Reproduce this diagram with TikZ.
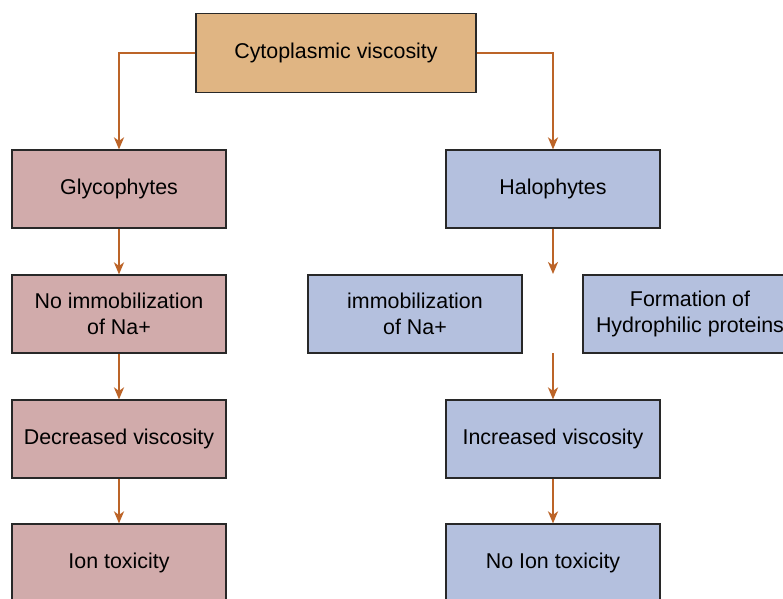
\documentclass[tikz,border=0pt]{standalone}
\usepackage{fontspec}
\setmainfont{Liberation Sans}
\usetikzlibrary{arrows.meta}

\definecolor{rootfill}{RGB}{224,181,131}
\definecolor{glyfill}{RGB}{209,171,171}
\definecolor{halofill}{RGB}{180,192,222}
\definecolor{boxline}{RGB}{40,40,40}
\definecolor{flow}{RGB}{188,100,40}

\tikzset{
  box/.style={draw=boxline, line width=1.2pt, minimum width=214pt, minimum height=78pt,
    inner sep=0pt, align=center, font=\fontsize{21.4}{26}\selectfont},
  rootbox/.style={box, fill=rootfill, minimum width=280pt, minimum height=79pt},
  glybox/.style={box, fill=glyfill},
  halobox/.style={box, fill=halofill},
  flowarrow/.style={draw=flow, line width=2pt,
    -{Stealth[length=12pt, width=10pt, inset=3.5pt]}}
}

\begin{document}
\begin{tikzpicture}[x=1pt, y=-1pt]
  \clip (0,0) rectangle (783,598);
  \fill[white] (0,0) rectangle (783,598);

  % root of the tree
  \node[rootbox] (root) at (336,53) {Cytoplasmic viscosity};

  % glycophyte branch
  \node[glybox] (gly)    at (119,189) {Glycophytes};
  \node[glybox] (noimm)  at (119,314) {No immobilization\\of Na+};
  \node[glybox] (dec)    at (119,439) {Decreased viscosity};
  \node[glybox] (ion)    at (119,563) {Ion toxicity};

  % halophyte branch
  \node[halobox] (halo)  at (553,189) {Halophytes};
  \node[halobox] (imm)   at (415,314) {immobilization\\of Na+};
  \node[halobox] (form)  at (690,314) {Formation of\\Hydrophilic proteins};
  \node[halobox] (inc)   at (553,439) {Increased viscosity};
  \node[halobox] (noion) at (553,563) {No Ion toxicity};

  % free ends of the arrows in the gap between the two halophyte boxes
  \coordinate (gapin)  at (553,274);
  \coordinate (gapout) at (553,353);

  % connectors
  \draw[flowarrow] (root.west) -| (gly.north);
  \draw[flowarrow] (root.east) -| (halo.north);
  \draw[flowarrow] (gly) -- (noimm);
  \draw[flowarrow] (noimm) -- (dec);
  \draw[flowarrow] (dec) -- (ion);
  \draw[flowarrow] (halo.south) -- (gapin);
  \draw[flowarrow] (gapout) -- (inc.north);
  \draw[flowarrow] (inc) -- (noion);
\end{tikzpicture}
\end{document}
